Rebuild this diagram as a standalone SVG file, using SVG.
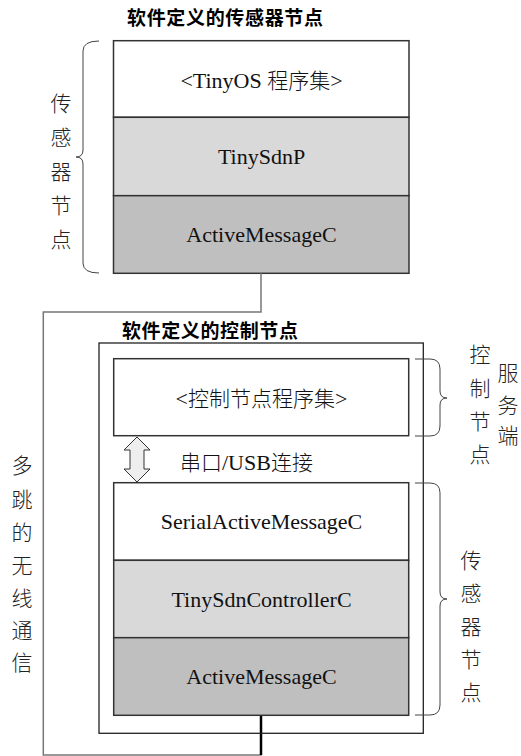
<svg xmlns="http://www.w3.org/2000/svg" width="521" height="756" viewBox="0 0 521 756">
<style>
.lbl{font-family:"Liberation Serif","Noto Sans CJK SC",serif;font-size:22px;fill:#111;text-anchor:middle}
.lt{font-family:"Noto Sans CJK SC",sans-serif;font-weight:300;font-size:21px}
.cjk{font-family:"Noto Sans CJK SC","Liberation Serif",sans-serif;font-size:21px;fill:#222;text-anchor:middle;font-weight:300}
.ttl{font-family:"Noto Sans CJK SC",sans-serif;font-size:19px;font-weight:bold;fill:#000}
.row{stroke:#333;stroke-width:1.5}
.brace{fill:none;stroke:#444;stroke-width:1}
.w{fill:#ffffff}.g1{fill:#d9d9d9}.g2{fill:#bfbfbf}
</style>
<text class="ttl" x="127" y="25" textLength="196" lengthAdjust="spacing">软件定义的传感器节点</text>
<g id="sensor-node">
<rect class="row w" x="113.5" y="40.7" width="295.5" height="76.6"/>
<rect class="row g1" x="113.5" y="117.3" width="295.5" height="78.4"/>
<rect class="row g2" x="113.5" y="195.7" width="295.5" height="77.6"/>
<text class="lbl" x="261.5" y="88">&lt;TinyOS <tspan class="lt">程序集</tspan>&gt;</text>
<text class="lbl" x="261.5" y="164">TinySdnP</text>
<text class="lbl" x="261.5" y="242">ActiveMessageC</text>
</g>
<g id="sensor-brace">
<path class="brace" d="M99 41 Q83 41 83 51 L83 150 Q83 157 76 157 Q83 157 83 164 L83 263 Q83 273 99 273"/>
<text class="cjk"><tspan x="61" y="111">传</tspan><tspan x="61" y="145">感</tspan><tspan x="61" y="179">器</tspan><tspan x="61" y="213">节</tspan><tspan x="61" y="247">点</tspan></text>
</g>
<g id="connectors">
<path d="M261 273.3 V312 H43.3 V755 H261 V715" fill="none" stroke="#777" stroke-width="1.5"/>
<path d="M261 715 V755" stroke="#000" stroke-width="2.5"/>
</g>
<text class="ttl" x="122" y="338" textLength="176" lengthAdjust="spacing">软件定义的控制节点</text>
<g id="control-node">
<rect x="99" y="343" width="324.3" height="390.3" fill="none" stroke="#222" stroke-width="1.3"/>
</g>
<g id="control-program">
<rect class="row w" x="113.7" y="358.7" width="295" height="77"/>
<text class="lbl" x="261.5" y="406">&lt;<tspan class="lt">控制节点程序集</tspan>&gt;</text>
</g>
<g id="serial-link">
<polygon points="137,437 124,450 130,450 130,469 124,469 137,482 150,469 144,469 144,450 150,450" fill="#eeeeee" stroke="#333" stroke-width="1"/>
<text class="lbl" x="180" y="470" style="text-anchor:start"><tspan class="lt">串口</tspan>/USB<tspan class="lt">连接</tspan></text>
</g>
<g id="controller-stack">
<rect class="row w" x="113.7" y="482.7" width="295" height="77.6"/>
<rect class="row g1" x="113.7" y="560.3" width="295" height="77.4"/>
<rect class="row g2" x="113.7" y="637.7" width="295" height="77.6"/>
<text class="lbl" x="261.5" y="529">SerialActiveMessageC</text>
<text class="lbl" x="261.5" y="607">TinySdnControllerC</text>
<text class="lbl" x="261.5" y="684">ActiveMessageC</text>
</g>
<g id="control-brace">
<path class="brace" d="M415 359 L430 359 Q440 359 440 369 L440 391 Q440 398 447 398 Q440 398 440 405 L440 426 Q440 436 430 436 L415 436"/>
<text class="cjk"><tspan x="480" y="362">控</tspan><tspan x="480" y="396">制</tspan><tspan x="480" y="429">节</tspan><tspan x="480" y="462">点</tspan></text>
<text class="cjk"><tspan x="508" y="381">服</tspan><tspan x="508" y="413">务</tspan><tspan x="508" y="443">端</tspan></text>
</g>
<g id="sensor-brace-2">
<path class="brace" d="M415 483 L430 483 Q440 483 440 493 L440 592 Q440 599 447 599 Q440 599 440 606 L440 705 Q440 715 430 715 L415 715"/>
<text class="cjk"><tspan x="471" y="568">传</tspan><tspan x="471" y="601">感</tspan><tspan x="471" y="634">器</tspan><tspan x="471" y="667">节</tspan><tspan x="471" y="700">点</tspan></text>
</g>
<g id="wireless-label">
<text class="cjk"><tspan x="22" y="473">多</tspan><tspan x="22" y="507">跳</tspan><tspan x="22" y="540">的</tspan><tspan x="22" y="573">无</tspan><tspan x="22" y="606">线</tspan><tspan x="22" y="638">通</tspan><tspan x="22" y="670">信</tspan></text>
</g>
</svg>
